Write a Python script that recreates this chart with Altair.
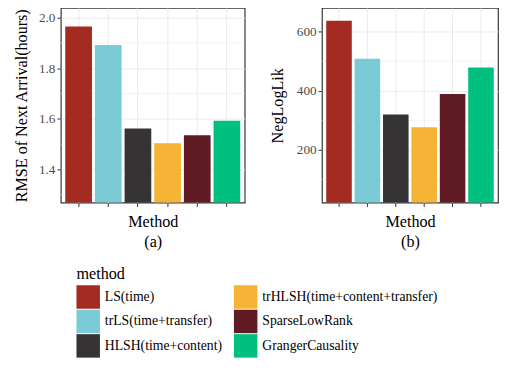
import altair as alt
import pandas as pd

methods = ["LS(time)", "trLS(time+transfer)", "HLSH(time+content)",
           "trHLSH(time+content+transfer)", "SparseLowRank", "GrangerCausality"]
colors = ["#A32B21", "#7ACBD5", "#353334", "#F5B435", "#611B24", "#00C07F"]
rmse = [1.965, 1.892, 1.562, 1.504, 1.535, 1.592]
negloglik = [637, 508, 320, 277, 389, 479]

rmse_major = [1.4, 1.6, 1.8, 2.0]
rmse_minor = [1.3, 1.5, 1.7, 1.9]
nll_major = [200, 400, 600]
nll_minor = [100, 300, 500]

df = pd.DataFrame({"method": methods, "rmse": rmse, "nll": negloglik})

FONT = "Liberation Serif"

color_enc = alt.Color(
    "method:N",
    scale=alt.Scale(domain=methods, range=colors),
    legend=alt.Legend(
        title="method", orient="none", legendX=16, legendY=264,
        columns=2, symbolType="square", symbolSize=576, symbolStrokeWidth=0,
        labelFontSize=14, titleFontSize=16.5, labelFont=FONT, titleFont=FONT,
        titleFontWeight="normal", labelColor="#000000", titleColor="#000000",
        rowPadding=1, columnPadding=12, labelOffset=5, titlePadding=3,
        symbolOpacity=1, labelLimit=400,
    ),
)


def panel(field, domain, major, minor, ytitle, sub, width, ytpad):
    x = alt.X(
        "method:N", sort=methods,
        scale=alt.Scale(domain=methods, paddingInner=0.1, paddingOuter=0.15),
        axis=alt.Axis(labels=False, title=["Method", sub], ticks=True, tickSize=4,
                      tickColor="#333333", grid=True, gridColor="#EBEBEB",
                      domain=False, bandPosition=0.5, titlePadding=7,
                      titleLineHeight=20, titleFont=FONT, titleFontSize=16.5),
    )
    y_axis = alt.Axis(values=major, title=ytitle, tickSize=4, tickColor="#333333",
                      gridColor="#EBEBEB", domain=False, labelPadding=2,
                      labelFont=FONT, labelFontSize=13.5, labelColor="#4D4D4D",
                      titleFont=FONT, titleFontSize=16.5,
                      titlePadding=ytpad, format=".1f" if field == "rmse" else "d")
    bars = alt.Chart(df).mark_bar(clip=True).encode(
        x=x,
        y=alt.Y(f"{field}:Q", scale=alt.Scale(domain=domain, zero=False, nice=False),
                axis=y_axis),
        color=color_enc,
    )
    minor_df = pd.DataFrame({field: minor})
    rules = alt.Chart(minor_df).mark_rule(color="#EBEBEB", strokeWidth=0.6).encode(
        y=alt.Y(f"{field}:Q", title=ytitle)
    )
    return alt.layer(rules, bars).properties(width=width, height=199)


a = panel("rmse", [1.269, 2.038], rmse_major, rmse_minor,
          "RMSE of Next Arrival(hours)", "(a)", 188, 9)
b = panel("nll", [22, 680], nll_major, nll_minor, "NegLogLik", "(b)", 180, 11)

chart = alt.hconcat(a, b, spacing=24).resolve_scale(color="shared").properties(
    padding={"left": 5, "top": -5, "right": 0, "bottom": 0}
).configure_view(
    stroke="#333333", strokeWidth=1.2
).configure_axis(
    labelFont=FONT, titleFont=FONT, labelFontSize=13.5, titleFontSize=16.5,
    labelColor="#4D4D4D", titleColor="#000000", titleFontWeight="normal",
)

chart.save("out.html", embed_options={"renderer": "svg", "actions": False})
